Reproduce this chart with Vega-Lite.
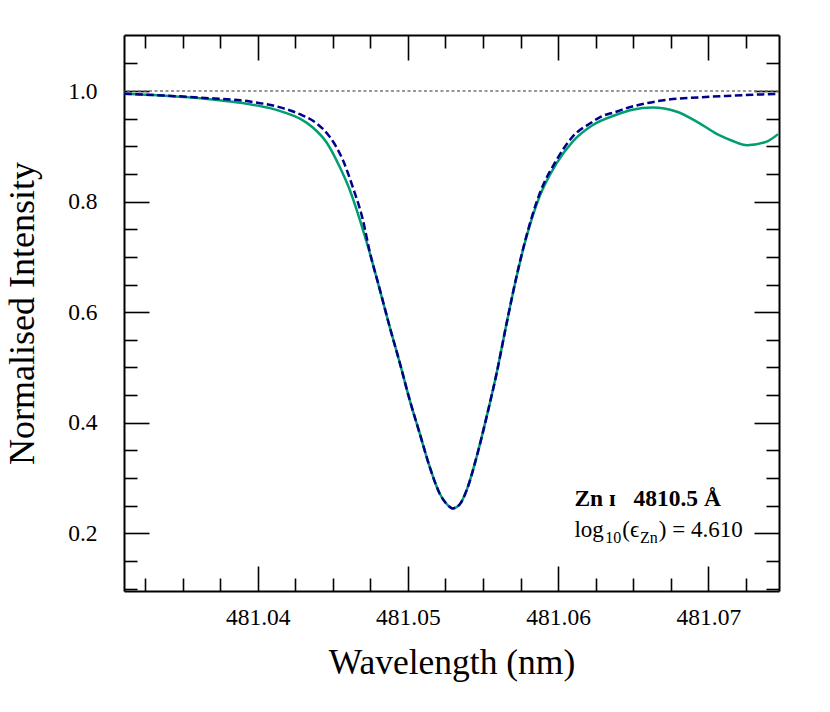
{
  "$schema": "https://vega.github.io/schema/vega-lite/v6.json",
  "width": 655,
  "height": 556,
  "autosize": {"type": "none"},
  "padding": {"left": 124, "top": 35, "right": 51, "bottom": 121},
  "background": "white",
  "config": {
    "view": {"stroke": null},
    "font": "Liberation Serif",
    "axis": {
      "grid": false,
      "domainColor": "black",
      "domainWidth": 2,
      "tickColor": "black",
      "tickWidth": 1.6,
      "labelFont": "Liberation Serif",
      "labelColor": "black",
      "labelFontSize": 23,
      "titleFont": "Liberation Serif",
      "titleColor": "black",
      "titleFontSize": 35.5,
      "titleFontWeight": "normal"
    }
  },
  "datasets": {
    "obs": [
      {"w": 481.03112, "v": 0.995}, {"w": 481.03351, "v": 0.992}, {"w": 481.03617, "v": 0.987},
      {"w": 481.03816, "v": 0.981}, {"w": 481.03949, "v": 0.976}, {"w": 481.04082, "v": 0.969},
      {"w": 481.04181, "v": 0.961}, {"w": 481.04281, "v": 0.950}, {"w": 481.04367, "v": 0.934},
      {"w": 481.04461, "v": 0.906}, {"w": 481.04547, "v": 0.862}, {"w": 481.04613, "v": 0.821},
      {"w": 481.04680, "v": 0.767}, {"w": 481.04746, "v": 0.707}, {"w": 481.04813, "v": 0.640},
      {"w": 481.04879, "v": 0.573}, {"w": 481.04946, "v": 0.508}, {"w": 481.05012, "v": 0.441},
      {"w": 481.05078, "v": 0.381}, {"w": 481.05145, "v": 0.320}, {"w": 481.05211, "v": 0.272},
      {"w": 481.05258, "v": 0.253}, {"w": 481.05298, "v": 0.245}, {"w": 481.05344, "v": 0.252},
      {"w": 481.05391, "v": 0.278}, {"w": 481.05457, "v": 0.338}, {"w": 481.05524, "v": 0.411},
      {"w": 481.05590, "v": 0.489}, {"w": 481.05657, "v": 0.580}, {"w": 481.05723, "v": 0.664},
      {"w": 481.05789, "v": 0.736}, {"w": 481.05876, "v": 0.809}, {"w": 481.05989, "v": 0.869},
      {"w": 481.06095, "v": 0.908}, {"w": 481.06228, "v": 0.938}, {"w": 481.06387, "v": 0.957},
      {"w": 481.06494, "v": 0.966}, {"w": 481.06627, "v": 0.970}, {"w": 481.06786, "v": 0.963},
      {"w": 481.06939, "v": 0.942}, {"w": 481.07072, "v": 0.920}, {"w": 481.07158, "v": 0.910},
      {"w": 481.07258, "v": 0.902}, {"w": 481.07384, "v": 0.908}, {"w": 481.07464, "v": 0.922}
    ],
    "model": [
      {"w": 481.03112, "v": 0.995}, {"w": 481.03617, "v": 0.988}, {"w": 481.03949, "v": 0.981},
      {"w": 481.04168, "v": 0.969}, {"w": 481.04281, "v": 0.958}, {"w": 481.04394, "v": 0.941},
      {"w": 481.04480, "v": 0.917}, {"w": 481.04567, "v": 0.875}, {"w": 481.04633, "v": 0.826},
      {"w": 481.04700, "v": 0.767}, {"w": 481.04746, "v": 0.709}, {"w": 481.04813, "v": 0.641},
      {"w": 481.04879, "v": 0.573}, {"w": 481.04946, "v": 0.508}, {"w": 481.05012, "v": 0.441},
      {"w": 481.05078, "v": 0.381}, {"w": 481.05145, "v": 0.320}, {"w": 481.05211, "v": 0.272},
      {"w": 481.05258, "v": 0.253}, {"w": 481.05298, "v": 0.245}, {"w": 481.05344, "v": 0.252},
      {"w": 481.05391, "v": 0.278}, {"w": 481.05457, "v": 0.338}, {"w": 481.05524, "v": 0.411},
      {"w": 481.05590, "v": 0.489}, {"w": 481.05657, "v": 0.580}, {"w": 481.05723, "v": 0.665},
      {"w": 481.05789, "v": 0.738}, {"w": 481.05876, "v": 0.814}, {"w": 481.05989, "v": 0.875},
      {"w": 481.06095, "v": 0.917}, {"w": 481.06228, "v": 0.944}, {"w": 481.06274, "v": 0.952},
      {"w": 481.06387, "v": 0.9625}, {"w": 481.06494, "v": 0.972}, {"w": 481.06540, "v": 0.975},
      {"w": 481.06720, "v": 0.984}, {"w": 481.06939, "v": 0.9885}, {"w": 481.07158, "v": 0.9915},
      {"w": 481.07464, "v": 0.995}
    ],
    "labels": [
      {"w": 481.06108, "v": 0.2494, "t": "Zn ɪ\u00a0\u00a0 4810.5 Å", "kind": "bold"},
      {"w": 481.06108, "v": 0.193, "t": "log", "kind": "main"},
      {"w": 481.06314, "v": 0.193, "t": "10", "kind": "sub"},
      {"w": 481.06427, "v": 0.193, "t": "(ϵ", "kind": "main"},
      {"w": 481.06545, "v": 0.193, "t": "Zn", "kind": "sub"},
      {"w": 481.06670, "v": 0.193, "t": ") = 4.610", "kind": "main"}
    ]
  },
  "layer": [
    {
      "data": {"values": [{"c": 1.0}]},
      "mark": {"type": "rule", "color": "#777777", "strokeWidth": 1.5, "strokeDash": [3, 2.5]},
      "encoding": {
        "y": {"field": "c", "type": "quantitative", "scale": {"domain": [0.0956, 1.1013], "nice": false, "zero": false}, "axis": null}
      }
    },
    {
      "data": {"name": "obs"},
      "mark": {"type": "line", "color": "#029e73", "strokeWidth": 2.5, "interpolate": "monotone", "clip": true},
      "encoding": {
        "x": {
          "field": "w", "type": "quantitative",
          "scale": {"domain": [481.0311, 481.0747], "nice": false, "zero": false},
          "axis": {
            "orient": "bottom",
            "values": [481.0325, 481.035, 481.0375, 481.04, 481.0425, 481.045, 481.0475, 481.05, 481.0525, 481.055, 481.0575, 481.06, 481.0625, 481.065, 481.0675, 481.07, 481.0725],
            "labelExpr": "abs(datum.value*100 - round(datum.value*100)) < 0.01 ? format(datum.value, '.2f') : ''",
            "tickSize": {"condition": {"test": "abs(datum.value*100 - round(datum.value*100)) < 0.01", "value": -25}, "value": -13},
            "labelFont": "Liberation Serif",
            "labelFontSize": 23.5,
            "labelPadding": 39,
            "labelFlush": false,
            "labelOverlap": false,
            "title": "Wavelength (nm)",
            "titleFont": "Liberation Serif",
            "titleFontSize": 35.5,
            "titlePadding": 5
          }
        },
        "y": {
          "field": "v", "type": "quantitative",
          "scale": {"domain": [0.0956, 1.1013], "nice": false, "zero": false},
          "axis": {
            "orient": "left",
            "values": [0.1, 0.15, 0.2, 0.25, 0.3, 0.35, 0.4, 0.45, 0.5, 0.55, 0.6, 0.65, 0.7, 0.75, 0.8, 0.85, 0.9, 0.95, 1.0, 1.05],
            "labelExpr": "abs(datum.value*5 - round(datum.value*5)) < 0.01 ? format(datum.value, '.1f') : ''",
            "tickSize": {"condition": {"test": "abs(datum.value*5 - round(datum.value*5)) < 0.01", "value": -25}, "value": -13},
            "labelFont": "Liberation Serif",
            "labelFontSize": 23.5,
            "labelPadding": 52,
            "labelFlush": false,
            "labelOverlap": false,
            "title": "Normalised Intensity",
            "titleFont": "Liberation Serif",
            "titleFontSize": 36,
            "titlePadding": 26
          }
        }
      }
    },
    {
      "data": {"name": "model"},
      "mark": {"type": "line", "color": "#00008b", "strokeWidth": 2.5, "strokeDash": [7.5, 3.5], "interpolate": "monotone", "clip": true},
      "encoding": {
        "x": {
          "field": "w", "type": "quantitative",
          "scale": {"domain": [481.0311, 481.0747], "nice": false, "zero": false},
          "axis": {
            "orient": "top",
            "values": [481.0325, 481.035, 481.0375, 481.04, 481.0425, 481.045, 481.0475, 481.05, 481.0525, 481.055, 481.0575, 481.06, 481.0625, 481.065, 481.0675, 481.07, 481.0725],
            "labels": false,
            "tickSize": {"condition": {"test": "abs(datum.value*100 - round(datum.value*100)) < 0.01", "value": -25}, "value": -13},
            "title": null
          }
        },
        "y": {
          "field": "v", "type": "quantitative",
          "scale": {"domain": [0.0956, 1.1013], "nice": false, "zero": false},
          "axis": {
            "orient": "right",
            "values": [0.1, 0.15, 0.2, 0.25, 0.3, 0.35, 0.4, 0.45, 0.5, 0.55, 0.6, 0.65, 0.7, 0.75, 0.8, 0.85, 0.9, 0.95, 1.0, 1.05],
            "labels": false,
            "tickSize": {"condition": {"test": "abs(datum.value*5 - round(datum.value*5)) < 0.01", "value": -25}, "value": -13},
            "title": null
          }
        }
      }
    },
    {
      "data": {"name": "labels"},
      "transform": [{"filter": "datum.kind == 'bold'"}],
      "mark": {"type": "text", "align": "left", "baseline": "alphabetic", "fontSize": 23.5, "fontWeight": "bold", "font": "Liberation Serif, DejaVu Serif", "color": "black"},
      "encoding": {
        "x": {"field": "w", "type": "quantitative", "scale": {"domain": [481.0311, 481.0747], "nice": false, "zero": false}, "axis": null},
        "y": {"field": "v", "type": "quantitative", "scale": {"domain": [0.0956, 1.1013], "nice": false, "zero": false}, "axis": null},
        "text": {"field": "t"}
      }
    },
    {
      "data": {"name": "labels"},
      "transform": [{"filter": "datum.kind == 'main'"}],
      "mark": {"type": "text", "align": "left", "baseline": "alphabetic", "fontSize": 23, "font": "Liberation Serif, DejaVu Serif", "color": "black"},
      "encoding": {
        "x": {"field": "w", "type": "quantitative", "scale": {"domain": [481.0311, 481.0747], "nice": false, "zero": false}, "axis": null},
        "y": {"field": "v", "type": "quantitative", "scale": {"domain": [0.0956, 1.1013], "nice": false, "zero": false}, "axis": null},
        "text": {"field": "t"}
      }
    },
    {
      "data": {"name": "labels"},
      "transform": [{"filter": "datum.kind == 'sub'"}],
      "mark": {"type": "text", "align": "left", "baseline": "alphabetic", "fontSize": 16, "dy": 6, "font": "Liberation Serif, DejaVu Serif", "color": "black"},
      "encoding": {
        "x": {"field": "w", "type": "quantitative", "scale": {"domain": [481.0311, 481.0747], "nice": false, "zero": false}, "axis": null},
        "y": {"field": "v", "type": "quantitative", "scale": {"domain": [0.0956, 1.1013], "nice": false, "zero": false}, "axis": null},
        "text": {"field": "t"}
      }
    }
  ],
  "resolve": {"axis": {"x": "independent", "y": "independent"}}
}
